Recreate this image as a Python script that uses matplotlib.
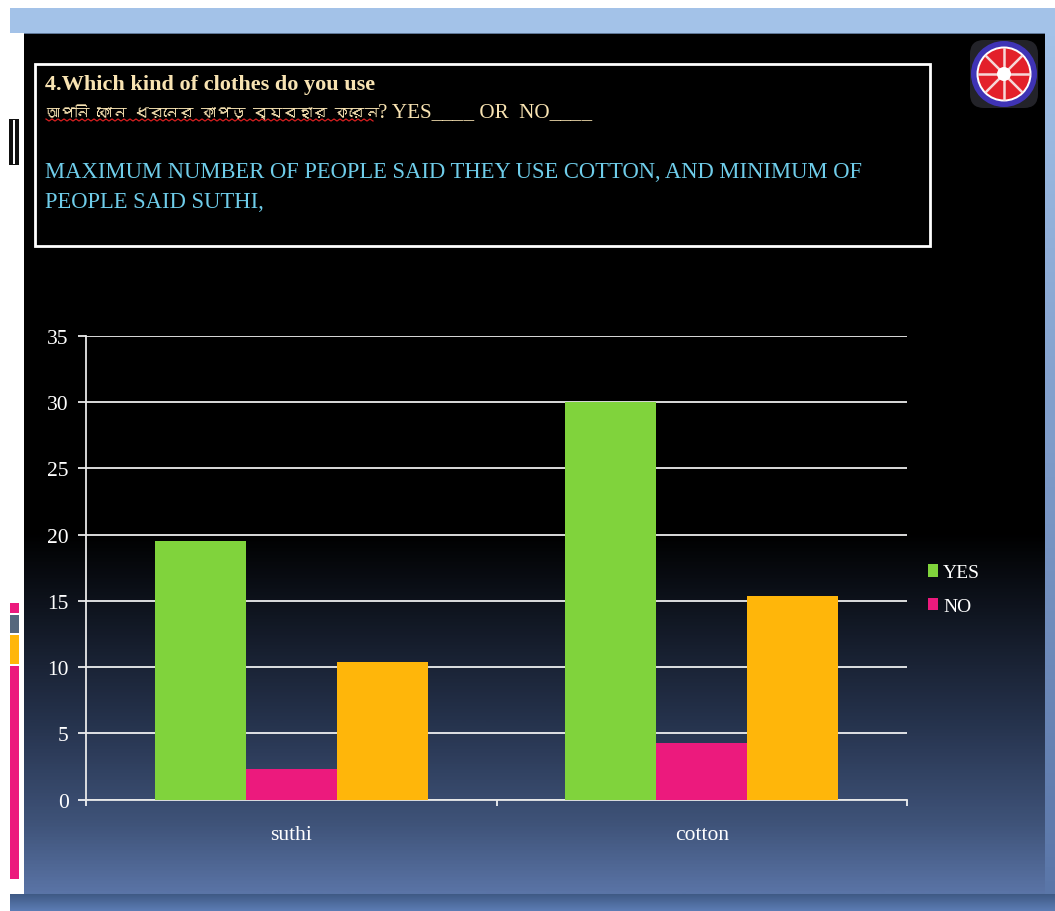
import numpy as np
import matplotlib
matplotlib.use("Agg")
import matplotlib.pyplot as plt
from matplotlib import font_manager, ft2font
from matplotlib.patches import Rectangle, Circle, FancyBboxPatch
from matplotlib.colors import LinearSegmentedColormap

categories = ["suthi", "cotton"]
yes_vals = [19.5, 30]
no_vals = [2.3, 4.3]
other_vals = [10.4, 15.4]
y_ticks = [0, 5, 10, 15, 20, 25, 30, 35]

title_en = "4.Which kind of clothes do you use"
title_bn = "আপনি কোন ধরনের কাপড় ব্যবহার করেন"
title_rest = "? YES____ OR  NO____"
note_lines = ["MAXIMUM NUMBER OF PEOPLE SAID THEY USE COTTON, AND MINIMUM OF",
              "PEOPLE SAID SUTHI,"]

serif = ["Liberation Serif", "DejaVu Serif"]
W, H = 1055, 912

# look for anything on the machine that has bengali letters
bn_family = None
for fe in font_manager.fontManager.ttflist:
    try:
        if 0x0995 in ft2font.FT2Font(fe.fname).get_charmap():
            bn_family = fe.name
            break
    except Exception:
        pass
bn_fonts = [bn_family] + serif if bn_family else serif

fig = plt.figure(figsize=(W / 100, H / 100), dpi=100, facecolor="white")

# whole window drawn in pixel coords
bg = fig.add_axes([0, 0, 1, 1])
bg.axis("off")

# outer blue frame
bg.add_patch(Rectangle((10, 9), W - 10, 25, fc="#a3c2e8", lw=0))
bg.add_patch(Rectangle((24, 34), W - 24, 1, fc="#5f7797", lw=0))
side = LinearSegmentedColormap.from_list("side", ["#a3c2e8", "#7d9ac8", "#5a76a8"])
bg.imshow(np.linspace(0, 1, 256).reshape(-1, 1), cmap=side, extent=[1045, W, 895, 34], aspect="auto", zorder=1)
bottom = LinearSegmentedColormap.from_list("bottom", ["#3f5a85", "#5c7cb4"])
bg.imshow(np.linspace(0, 1, 32).reshape(-1, 1), cmap=bottom, extent=[10, W, 912, 895], aspect="auto", zorder=1)

# slide background, black fading into slate blue
slide = LinearSegmentedColormap.from_list(
    "slide", [(0, "#000000"), (0.58, "#000000"), (0.80, "#25324c"), (0.92, "#3f5379"), (1, "#5a74a6")])
bg.imshow(np.linspace(0, 1, 512).reshape(-1, 1), cmap=slide, extent=[24, 1045, 895, 35], aspect="auto", zorder=1)
bg.set_xlim(0, W)
bg.set_ylim(H, 0)

# left thumbnails strip
bg.add_patch(Rectangle((9, 120), 10, 46, fc="#111111", lw=0, zorder=2))
bg.add_patch(Rectangle((12.5, 121), 2, 44, fc="#ffffff", lw=0, zorder=3))
bg.add_patch(Rectangle((10, 604), 9, 10, fc="#ec1a7d", lw=0, zorder=2))
bg.add_patch(Rectangle((10, 616), 9, 18, fc="#55677d", lw=0, zorder=2))
bg.add_patch(Rectangle((10, 636), 9, 29, fc="#ffb60a", lw=0, zorder=2))
bg.add_patch(Rectangle((10, 667), 9, 213, fc="#ec1a7d", lw=0, zorder=2))

# text box
bg.add_patch(Rectangle((35, 65), 895, 182, fc="none", ec="white", lw=2, zorder=3))
bg.text(45, 85, title_en, color="#f8e3b2", fontsize=16, fontweight="bold", family=serif, va="center", zorder=4)
bg.text(45, 112, title_bn, color="#f8e3b2", fontsize=10.7, family=bn_fonts, va="center", zorder=4)
bg.text(378, 113, title_rest, color="#f8e3b2", fontsize=15.2, family=serif, va="center", zorder=4)
xs = np.arange(46, 376, 3)
bg.plot(xs, 120 + (np.arange(len(xs)) % 2) * 2, color="#d82020", lw=0.9, zorder=4)
bg.text(45, 173, note_lines[0], color="#6fcdea", fontsize=16.3, family=serif, va="center", zorder=4)
bg.text(45, 203, note_lines[1], color="#6fcdea", fontsize=16.3, family=serif, va="center", zorder=4)

# logo
cx, cy = 1004, 75
bg.add_patch(FancyBboxPatch((cx - 30, cy - 30), 60, 60, boxstyle="round,pad=4,rounding_size=14",
                            fc="#77778a", ec="none", alpha=0.3, zorder=3))
bg.add_patch(Circle((cx, cy), 33, fc="#3f33b5", lw=0, zorder=4))
bg.add_patch(Circle((cx, cy), 27.5, fc="white", lw=0, zorder=5))
bg.add_patch(Circle((cx, cy), 25.5, fc="#e3202a", lw=0, zorder=6))
for a in np.arange(0, 360, 45):
    r = np.deg2rad(a)
    bg.plot([cx, cx + 25 * np.cos(r)], [cy, cy + 25 * np.sin(r)], color="#f6d8d8", lw=1.8, zorder=7)
bg.add_patch(Circle((cx, cy), 7, fc="white", lw=0, zorder=8))

# chart
ax = fig.add_axes([86 / W, 1 - 800.7 / H, (907 - 86) / W, (800 - 336) / H])
ax.patch.set_alpha(0)
x = np.arange(len(categories))
w = 0.222
b1 = ax.bar(x - w, yes_vals, w, color="#80d33c", label="YES", zorder=3)
b2 = ax.bar(x, no_vals, w, color="#ec1a7d", label="NO", zorder=3)
ax.bar(x + w, other_vals, w, color="#ffb60a", zorder=3)

ax.set_xlim(-0.5, 1.5)
ax.set_ylim(0, 35)
ax.set_yticks(y_ticks)
ax.set_xticks(x)
ax.set_xticklabels(categories)
ax.set_xticks([-0.5, 0.5, 1.5], minor=True)
ax.grid(axis="y", color="white", lw=1.2, zorder=1)
ax.set_axisbelow(True)
for s in ["top", "right"]:
    ax.spines[s].set_visible(False)
for s in ["left", "bottom"]:
    ax.spines[s].set_color("#e8e8e8")
    ax.spines[s].set_linewidth(1.3)
ax.tick_params(axis="y", colors="white", length=5.5, width=1.2, pad=7, labelsize=15.5)
ax.tick_params(axis="x", which="major", length=0, pad=18, colors="white", labelsize=15.5)
ax.tick_params(axis="x", which="minor", length=4.5, width=1.2, colors="white")
for t in ax.get_xticklabels() + ax.get_yticklabels():
    t.set_family(serif)

leg = ax.legend(handles=[b1, b2], loc="center left", bbox_to_anchor=(1.0256, 0.453), frameon=False,
                labelcolor="white", prop={"family": serif, "size": 14}, handlelength=0.52, handleheight=0.6,
                handletextpad=0.25, labelspacing=0.85, borderpad=0, borderaxespad=0)

fig.savefig("out.png", dpi=100, facecolor="white")
